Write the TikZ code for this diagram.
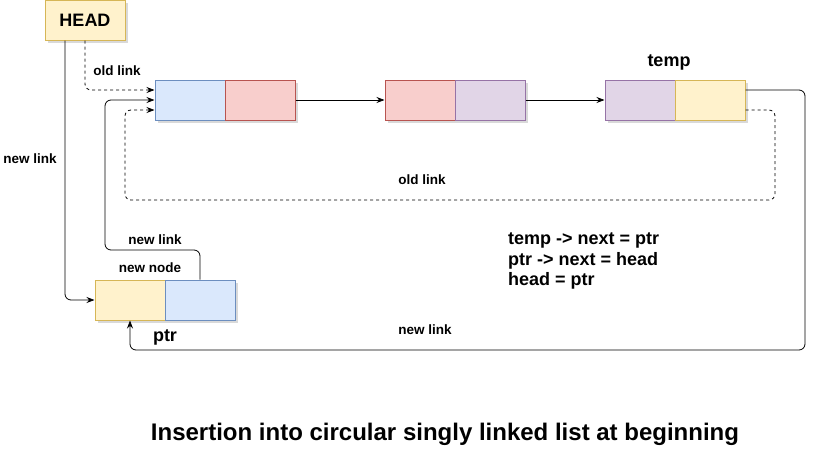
\documentclass[tikz,border=0pt]{standalone}
\usepackage{fontspec}
\setmainfont{Liberation Sans}
\usetikzlibrary{arrows.meta,shadows,calc}
\definecolor{bluefill}{HTML}{DAE8FC}\definecolor{bluedraw}{HTML}{6C8EBF}
\definecolor{redfill}{HTML}{F8CECC}\definecolor{reddraw}{HTML}{B85450}
\definecolor{purpfill}{HTML}{E1D5E7}\definecolor{purpdraw}{HTML}{9673A6}
\definecolor{yelfill}{HTML}{FFF2CC}\definecolor{yeldraw}{HTML}{D6B656}
\begin{document}
\begin{tikzpicture}[x=1pt,y=-1pt,
  cell/.style={minimum width=70pt,minimum height=40pt,line width=1pt,inner sep=0pt,
    drop shadow={shadow xshift=3pt,shadow yshift=-3pt,opacity=0.25,fill=black!60}},
  bcell/.style={cell,fill=bluefill,draw=bluedraw},
  rcell/.style={cell,fill=redfill,draw=reddraw},
  pcell/.style={cell,fill=purpfill,draw=purpdraw},
  ycell/.style={cell,fill=yelfill,draw=yeldraw},
  conn/.style={line width=0.8pt,rounded corners=6pt,-{Stealth[length=8pt,width=6pt]}},
  dconn/.style={conn,dash pattern=on 3pt off 3pt},
  lbl/.style={font=\bfseries\fontsize{13.5}{16}\selectfont,inner sep=0pt},
  big/.style={font=\bfseries\fontsize{18}{20.5}\selectfont,inner sep=0pt}]
\useasboundingbox (0,0) rectangle (820,453);
% nodes
\node[ycell,minimum width=80pt,big] (head) at (85,20) {HEAD};
\node[bcell] (n1a) at (190,100) {};
\node[rcell] (n1b) at (260,100) {};
\node[rcell] (n2a) at (420,100) {};
\node[pcell] (n2b) at (490,100) {};
\node[pcell] (n3a) at (640,100) {};
\node[ycell] (n3b) at (710,100) {};
\node[ycell] (nna) at (130,300) {};
\node[bcell] (nnb) at (200,300) {};
% labels
\node[big] (ltemp) at (669,62) {temp};
\node[big] (lptr) at (165,337) {ptr};
\node[lbl] (lnewnode) at (150,268) {new node};
\node[lbl] (lold1) at (117,71) {old link};
\node[lbl] (lnew1) at (30,159) {new link};
\node[lbl] (lnew2) at (155,240) {new link};
\node[lbl] (lold2) at (422,180) {old link};
\node[lbl] (lnew3) at (425,330) {new link};
\node[big,align=left,anchor=west] (code) at (508,261)
  {temp -> next = ptr\\ptr -> next = head\\head = ptr};
\node[inner sep=0pt,font=\bfseries\fontsize{24}{28}\selectfont] (title) at (445,434)
  {Insertion into circular singly linked list at beginning};
% connectors
\draw[conn] (n1b.east) -- (n2a.west);
\draw[conn] (n2b.east) -- (n3a.west);
\draw[dconn] (head.south) |- ([yshift=10pt]n1a.west);
\draw[conn] ([xshift=-20pt]head.south) |- (nna.west);
\draw[conn] (nnb.north) -- (200,250) -- (105,250) |- (n1a.west);
\draw[dconn] ([yshift=-10pt]n3b.east) -- (775,110) -- (775,200) -- (125,200) -- (125,110) -- ([yshift=-10pt]n1a.west);
\draw[conn] ([yshift=10pt]n3b.east) -- (805,90) -- (805,350) -- (130,350) -- (nna.south);
\end{tikzpicture}
\end{document}
